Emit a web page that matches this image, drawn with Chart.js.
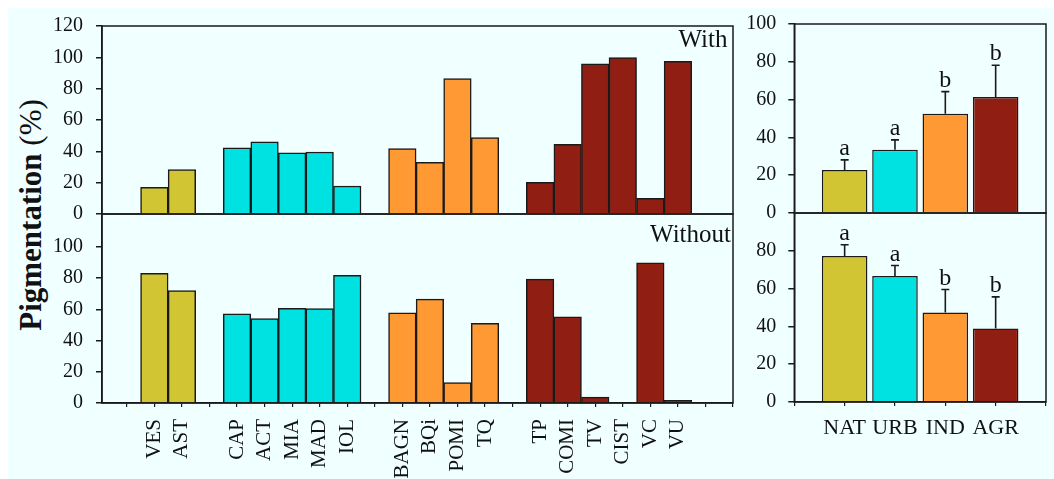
<!DOCTYPE html>
<html>
<head>
<meta charset="utf-8">
<script src="https://cdn.jsdelivr.net/npm/chart.js@4"></script>
<style>
  body { margin: 0; width: 1054px; height: 479px; overflow: hidden; position: relative; background: #fff; font-family: 'Liberation Serif', 'Times New Roman', serif; }
  #bg { position: absolute; left: 8px; top: 8px; right: 0; bottom: 0; background: #f0ffff; }
  canvas { position: absolute; }
  #ytitle { position: absolute; left: 31px; top: 215px; transform: translate(-50%, -50%) rotate(-90deg); white-space: nowrap; font-size: 31px; color: #111; }
  #ytitle b { font-weight: bold; }
</style>
</head>
<body>
<div id="bg"></div>
<div id="ytitle"><b>Pigmentation</b> (%)</div>
<canvas id="withSites" width="740" height="230" style="left:0;top:0"></canvas>
<canvas id="withGroups" width="314" height="228" style="left:740px;top:0"></canvas>
<canvas id="withoutSites" width="740" height="279" style="left:0;top:200px"></canvas>
<canvas id="withoutGroups" width="314" height="279" style="left:740px;top:200px"></canvas>
<script>
// sites along the x axis, blanks separate the land-use groups
const sites = ['', 'VES', 'AST', '', 'CAP', 'ACT', 'MIA', 'MAD', 'IOL', '', 'BAGN', 'BQi', 'POMI', 'TQ', '', 'TP', 'COMI', 'TV', 'CIST', 'VC', 'VU', '', ''];
const siteGroup = ['', 'NAT', 'NAT', '', 'URB', 'URB', 'URB', 'URB', 'URB', '', 'IND', 'IND', 'IND', 'IND', '', 'AGR', 'AGR', 'AGR', 'AGR', 'AGR', 'AGR', '', ''];
const withSite = [null, 17, 28.3, null, 42.3, 46, 39, 39.6, 17.9, null, 41.7, 33, 86.4, 48.7, null, 20.2, 44.5, 95.9, 99.8, 10, 97.4, null, null];
const withoutSite = [null, 83, 71.9, null, 57.1, 54, 60.6, 60.4, 81.7, null, 57.8, 66.5, 13, 51, null, 79.3, 55.2, 3.8, 0, 89.8, 1.7, null, null];

// group means (right panels)
const groups = ['', 'NAT', 'URB', 'IND', 'AGR', ''];
const withMean = [null, 22.8, 33.4, 52.5, 61.4, null];
const withErr = [null, 5.3, 5.3, 11.7, 16.8, null];
const withLetters = ['', 'a', 'a', 'b', 'b', ''];
const withoutMean = [null, 77.3, 66.7, 47.4, 38.9, null];
const withoutErr = [null, 5.9, 5.5, 12.1, 16.7, null];
const withoutLetters = ['', 'a', 'a', 'b', 'b', ''];

const withTicks = [0, 20, 40, 60, 80, 100, 120];
const withoutTicks = [0, 20, 40, 60, 80, 100];
const withGroupTicks = [0, 20, 40, 60, 80, 100];
const withoutGroupTicks = [0, 20, 40, 60, 80];

const groupColors = { NAT: '#d2c534', URB: '#00e2e2', IND: '#ff9933', AGR: '#901e12' };
const FONT = "'Liberation Serif', 'Times New Roman', serif";
const INK = '#1a1a1a';

const framePlugin = {
    id: 'frame',
    afterDraw(chart) {
        const a = chart.chartArea;
        const ctx = chart.ctx;
        ctx.save();
        ctx.strokeStyle = INK;
        ctx.lineWidth = 1.5;
        ctx.strokeRect(a.left, a.top, a.right - a.left, a.bottom - a.top);
        const opt = chart.options.plugins.frame;
        if (opt && opt.text) {
            ctx.fillStyle = '#111';
            ctx.font = '25px ' + FONT;
            ctx.textAlign = 'right';
            ctx.textBaseline = 'alphabetic';
            ctx.fillText(opt.text, a.right - opt.dx, a.top + opt.dy);
        }
        ctx.restore();
    }
};

const errorPlugin = {
    id: 'errs',
    afterDatasetsDraw(chart) {
        const ds = chart.data.datasets[0];
        if (!ds.errors) return;
        const xs = chart.scales.x, ys = chart.scales.y;
        const ctx = chart.ctx;
        ctx.save();
        ctx.strokeStyle = INK;
        ctx.fillStyle = '#111';
        ctx.lineWidth = 1.6;
        ctx.font = '24px ' + FONT;
        ctx.textAlign = 'center';
        ctx.textBaseline = 'alphabetic';
        ds.data.forEach((v, i) => {
            if (v == null) return;
            const x = xs.getPixelForValue(i);
            const y0 = ys.getPixelForValue(v);
            const y1 = ys.getPixelForValue(v + ds.errors[i]);
            ctx.beginPath();
            ctx.moveTo(x, y0);
            ctx.lineTo(x, y1);
            ctx.moveTo(x - 4, y1);
            ctx.lineTo(x + 4, y1);
            ctx.stroke();
            ctx.fillText(ds.letters[i], x, y1 - 5);
        });
        ctx.restore();
    }
};

function yScale(max, ticks, width, pad) {
    return {
        min: 0,
        max: max,
        afterBuildTicks: s => { s.ticks = ticks.map(v => ({ value: v })); },
        afterFit: s => { s.width = width; s.paddingTop = 0; s.paddingBottom = 0; },
        ticks: { autoSkip: false, font: { family: FONT, size: 20 }, color: '#111', padding: pad },
        grid: { drawOnChartArea: false, tickLength: 6, color: INK, lineWidth: 1.5 },
        border: { color: INK, width: 1.5 }
    };
}

function siteChart(id, values, yMax, ticks, showX, label, dy, padding) {
    return new Chart(document.getElementById(id), {
        type: 'bar',
        data: {
            datasets: [{
                data: values.map((v, i) => ({ x: i, y: v })),
                backgroundColor: siteGroup.map(g => groupColors[g] || 'transparent'),
                borderColor: INK,
                borderWidth: 1.5,
                barPercentage: 1,
                categoryPercentage: 1
            }]
        },
        options: {
            responsive: false,
            animation: false,
            events: [],
            layout: { padding: padding },
            plugins: { legend: { display: false }, tooltip: { enabled: false }, frame: { text: label, dx: label === 'With' ? 5.5 : 2, dy: dy } },
            scales: {
                x: {
                    type: 'linear',
                    min: -0.9,
                    max: 22,
                    offset: false,
                    display: showX,
                    afterBuildTicks: s => { s.ticks = sites.map((_, i) => ({ value: i })); },
                    afterFit: s => { s.height = showX ? 76 : 0; s.paddingLeft = 0; s.paddingRight = 0; },
                    ticks: {
                        autoSkip: false, minRotation: 90, maxRotation: 90, padding: 12,
                        font: { family: FONT, size: 21 }, color: '#111',
                        callback: v => sites[v] || ''
                    },
                    grid: { offset: false, drawOnChartArea: false, tickLength: 4, color: INK, lineWidth: 1.2 },
                    border: { color: INK, width: 1.5 }
                },
                y: yScale(yMax, ticks, 102, 13)
            }
        },
        plugins: [framePlugin]
    });
}

function groupChart(id, means, errs, letters, ticks, showX, padding) {
    return new Chart(document.getElementById(id), {
        type: 'bar',
        data: {
            labels: groups,
            datasets: [{
                data: means,
                errors: errs,
                letters: letters,
                backgroundColor: groups.map(g => groupColors[g] || 'transparent'),
                borderColor: INK,
                borderWidth: 1.5,
                barPercentage: 0.905,
                categoryPercentage: 1
            }]
        },
        options: {
            responsive: false,
            animation: false,
            events: [],
            layout: { padding: padding },
            plugins: { legend: { display: false }, tooltip: { enabled: false } },
            scales: {
                x: {
                    offset: false,
                    display: showX,
                    afterFit: s => { s.height = showX ? 77 : 0; s.paddingLeft = 0; s.paddingRight = 0; },
                    ticks: { autoSkip: false, maxRotation: 0, padding: 9, font: { family: FONT, size: 22 }, color: '#111' },
                    grid: { offset: false, drawOnChartArea: false, tickLength: 4, color: INK, lineWidth: 1.2 },
                    border: { color: INK, width: 1.5 }
                },
                y: yScale(100, ticks, 54.3, 12)
            }
        },
        plugins: [framePlugin, errorPlugin]
    });
}

siteChart('withSites', withSite, 120, withTicks, false, 'With', 21, { top: 26, right: 7, bottom: 16, left: 0 });
siteChart('withoutSites', withoutSite, 121, withoutTicks, true, 'Without', 28, { top: 14, right: 7, bottom: 0, left: 0 });
groupChart('withGroups', withMean, withErr, withLetters, withGroupTicks, false, { top: 24, right: 8, bottom: 15, left: 0 });
groupChart('withoutGroups', withoutMean, withoutErr, withoutLetters, withoutGroupTicks, true, { top: 13, right: 8, bottom: 0, left: 0 });
</script>
</body>
</html>
